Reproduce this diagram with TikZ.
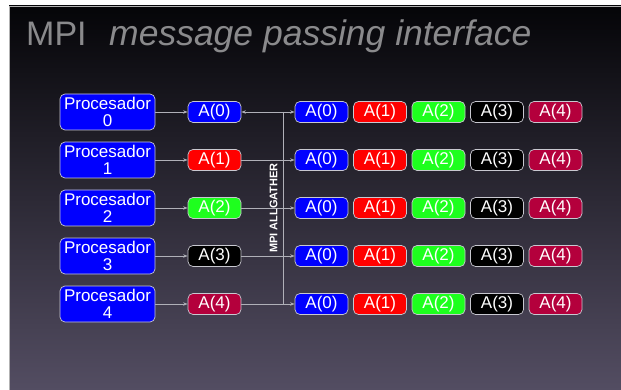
\documentclass[tikz,border=0pt]{standalone}
\usepackage{fontspec}
\setmainfont{Liberation Sans}
\usetikzlibrary{arrows.meta}
\definecolor{bgtop}{HTML}{050508}
\definecolor{bgmid}{HTML}{1C1B28}
\definecolor{bgbot}{HTML}{534D62}
\definecolor{titlegray}{HTML}{8A8A8C}
\definecolor{cblue}{HTML}{0000FF}
\definecolor{cred}{HTML}{FF0000}
\definecolor{cgreen}{HTML}{1EFF1E}
\definecolor{cblack}{HTML}{000000}
\definecolor{ccrim}{HTML}{B4003C}
\definecolor{edgegray}{HTML}{C8C8D0}
\definecolor{linegray}{HTML}{B0B0B8}
\tikzset{
  procbox/.style={draw=edgegray, line width=0.7pt, fill=cblue, rounded corners=5pt,
    minimum width=95pt, minimum height=36pt, inner sep=0pt, text=white, align=center,
    font=\fontsize{17}{17.5}\selectfont},
  databox/.style={draw=edgegray, line width=0.7pt, rounded corners=5pt,
    minimum width=53pt, minimum height=21pt, inner sep=0pt, text=white,
    font=\fontsize{17}{18}\selectfont},
  conn/.style={draw=linegray, line width=0.8pt},
  tip/.style={-{Stealth[length=4.5pt,width=3.5pt]}},
}
\begin{document}
\begin{tikzpicture}[x=1pt,y=-1pt]
\useasboundingbox (0,0) rectangle (621,390);
\fill[white] (0,0) rectangle (621,390);
\shade[top color=bgtop, middle color=bgmid, bottom color=bgbot] (9,6) rectangle (621,390);
\draw[gray!60, line width=0.5pt] (9,390) -- (9,6) -- (621,6);
% title
\node[anchor=base west, inner sep=0pt, text=titlegray, font=\fontsize{34}{36}\selectfont] (t1) at (26,46) {MPI};
\node[anchor=base west, inner sep=0pt, text=titlegray, font=\fontsize{35.5}{37}\selectfont\itshape] (t2) at (109,46) {message passing interface};
% processors and local data
\foreach \i/\c in {0/cblue,1/cred,2/cgreen,3/cblack,4/ccrim}{
  \node[procbox] (p\i) at (107.5,{112+48*\i}) {Procesador\\\i};
  \node[databox, fill=\c] (m\i) at (214.5,{112+48*\i}) {A(\i)};
  \draw[conn, tip] (p\i.east) -- (m\i.west);
  \foreach \j/\d in {0/cblue,1/cred,2/cgreen,3/cblack,4/ccrim}{
    \node[databox, fill=\d] (r\i\j) at ({321.5+58.5*\j},{112+48*\i}) {A(\j)};
  }
}
% gather connectors
\coordinate (bt) at (283,112);
\coordinate (bb) at (283,304);
\draw[conn] (bt) -- (bb);
\draw[conn, {Stealth[length=4.5pt,width=3.5pt]}-{Stealth[length=4.5pt,width=3.5pt]}] (m0.east) -- (r00.west);
\foreach \i in {1,2,3,4}{
  \draw[conn, tip] (m\i.east) -- (r\i0.west);
}
\node[rotate=90, text=white, inner sep=0pt, font=\fontsize{11}{12}\selectfont\bfseries] (lab) at (273.5,208) {MPI ALLGATHER};
\end{tikzpicture}
\end{document}
